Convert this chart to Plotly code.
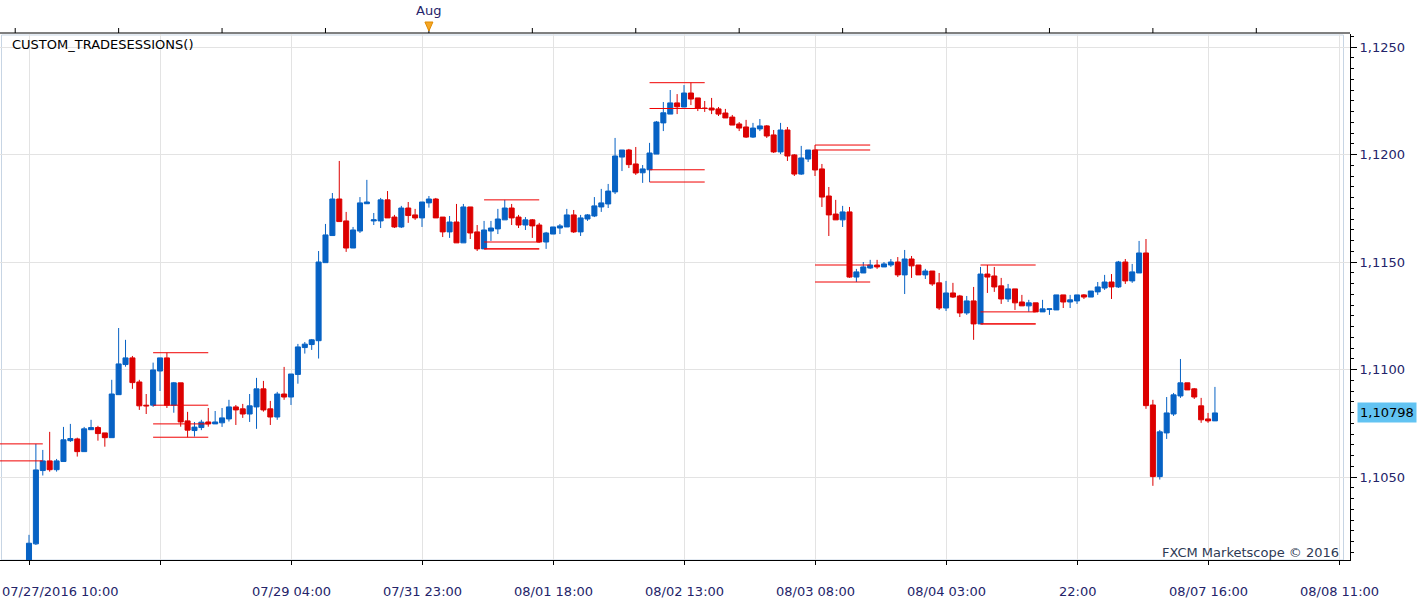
import plotly.graph_objects as go

# ---------------- data (hourly EUR/USD candles) ----------------
opens = [1.10087, 1.10189, 1.10530, 1.10575, 1.10534, 1.10572, 1.10669, 1.10677, 1.10618, 1.10720,
         1.10730, 1.10705, 1.10683, 1.10883, 1.11023, 1.11054, 1.10942, 1.10834, 1.10834, 1.10993,
         1.11054, 1.10834, 1.10938, 1.10761, 1.10716, 1.10730, 1.10756, 1.10747, 1.10752, 1.10770,
         1.10826, 1.10817, 1.10793, 1.10826, 1.10910, 1.10817, 1.10779, 1.10886, 1.10872, 1.10977,
         1.11102, 1.11116, 1.11134, 1.11497, 1.11623, 1.11793, 1.11691, 1.11565, 1.11644, 1.11771,
         1.11691, 1.11691, 1.11789, 1.11709, 1.11663, 1.11751, 1.11719, 1.11705, 1.11775, 1.11793,
         1.11709, 1.11640, 1.11686, 1.11589, 1.11756, 1.11640, 1.11561, 1.11644, 1.11654, 1.11696,
         1.11751, 1.11709, 1.11672, 1.11696, 1.11672, 1.11593, 1.11630, 1.11658, 1.11663, 1.11719,
         1.11640, 1.11700, 1.11714, 1.11756, 1.11770, 1.11826, 1.11988, 1.12021, 1.11956, 1.11915,
         1.11929, 1.12002, 1.12147, 1.12188, 1.12240, 1.12221, 1.12286, 1.12263, 1.12216, 1.12216,
         1.12212, 1.12193, 1.12174, 1.12142, 1.12128, 1.12081, 1.12119, 1.12133, 1.12091, 1.12012,
         1.12114, 1.11998, 1.11909, 1.11979, 1.12021, 1.11933, 1.11807, 1.11723, 1.11696, 1.11733,
         1.11430, 1.11449, 1.11472, 1.11486, 1.11477, 1.11486, 1.11500, 1.11440, 1.11514, 1.11486,
         1.11440, 1.11458, 1.11403, 1.11286, 1.11356, 1.11342, 1.11263, 1.11319, 1.11212, 1.11444,
         1.11435, 1.11389, 1.11328, 1.11375, 1.11314, 1.11296, 1.11310, 1.11268, 1.11279, 1.11277,
         1.11347, 1.11314, 1.11319, 1.11347, 1.11337, 1.11361, 1.11379, 1.11407, 1.11384, 1.11500,
         1.11412, 1.11449, 1.11542, 1.10835, 1.10502, 1.10705, 1.10793, 1.10877, 1.10938, 1.10910,
         1.10831, 1.10770, 1.10761]
highs = [1.10231, 1.10654, 1.10626, 1.10710, 1.10584, 1.10733, 1.10747, 1.10683, 1.10733, 1.10766,
         1.10738, 1.10705, 1.10952, 1.11193, 1.11138, 1.11063, 1.10952, 1.10886, 1.11032, 1.11054,
         1.11078, 1.10942, 1.10938, 1.10803, 1.10756, 1.10766, 1.10821, 1.10807, 1.10821, 1.10859,
         1.10835, 1.10840, 1.10886, 1.10961, 1.10947, 1.10854, 1.10896, 1.11012, 1.10979, 1.11119,
         1.11128, 1.11142, 1.11551, 1.11677, 1.11821, 1.11970, 1.11733, 1.11663, 1.11802, 1.11882,
         1.11728, 1.11798, 1.11830, 1.11719, 1.11761, 1.11779, 1.11747, 1.11779, 1.11807, 1.11798,
         1.11709, 1.11714, 1.11770, 1.11770, 1.11756, 1.11672, 1.11691, 1.11691, 1.11747, 1.11789,
         1.11770, 1.11719, 1.11709, 1.11700, 1.11682, 1.11640, 1.11663, 1.11677, 1.11747, 1.11742,
         1.11719, 1.11723, 1.11802, 1.11840, 1.11863, 1.12077, 1.12021, 1.12026, 1.12035, 1.11951,
         1.12054, 1.12156, 1.12244, 1.12300, 1.12281, 1.12323, 1.12334, 1.12263, 1.12249, 1.12263,
         1.12221, 1.12212, 1.12184, 1.12151, 1.12161, 1.12147, 1.12165, 1.12137, 1.12114, 1.12147,
         1.12128, 1.12002, 1.12040, 1.12021, 1.12044, 1.11956, 1.11849, 1.11789, 1.11761, 1.11756,
         1.11468, 1.11500, 1.11510, 1.11510, 1.11500, 1.11514, 1.11523, 1.11556, 1.11528, 1.11486,
         1.11468, 1.11458, 1.11449, 1.11412, 1.11403, 1.11347, 1.11342, 1.11384, 1.11477, 1.11486,
         1.11477, 1.11426, 1.11398, 1.11375, 1.11347, 1.11324, 1.11310, 1.11324, 1.11282, 1.11347,
         1.11347, 1.11347, 1.11347, 1.11351, 1.11365, 1.11407, 1.11440, 1.11444, 1.11505, 1.11514,
         1.11491, 1.11598, 1.11607, 1.10859, 1.10719, 1.10872, 1.10891, 1.11049, 1.10938, 1.10914,
         1.10868, 1.10798, 1.10919]
lows = [1.10068, 1.10184, 1.10507, 1.10525, 1.10525, 1.10572, 1.10663, 1.10595, 1.10618, 1.10719,
        1.10669, 1.10641, 1.10683, 1.10883, 1.11013, 1.10910, 1.10812, 1.10793, 1.10826, 1.10900,
        1.10821, 1.10799, 1.10734, 1.10685, 1.10688, 1.10718, 1.10734, 1.10747, 1.10733, 1.10758,
        1.10742, 1.10775, 1.10756, 1.10724, 1.10804, 1.10742, 1.10766, 1.10859, 1.10835, 1.10934,
        1.11074, 1.11091, 1.11051, 1.11497, 1.11623, 1.11688, 1.11547, 1.11565, 1.11635, 1.11770,
        1.11672, 1.11658, 1.11705, 1.11658, 1.11658, 1.11682, 1.11696, 1.11663, 1.11753, 1.11705,
        1.11616, 1.11612, 1.11589, 1.11589, 1.11607, 1.11551, 1.11561, 1.11598, 1.11630, 1.11696,
        1.11672, 1.11658, 1.11649, 1.11612, 1.11589, 1.11561, 1.11630, 1.11630, 1.11663, 1.11635,
        1.11621, 1.11691, 1.11709, 1.11733, 1.11751, 1.11816, 1.11923, 1.11937, 1.11905, 1.11868,
        1.11872, 1.12002, 1.12109, 1.12188, 1.12188, 1.12221, 1.12230, 1.12202, 1.12198, 1.12188,
        1.12179, 1.12170, 1.12137, 1.12109, 1.12077, 1.12077, 1.12109, 1.12077, 1.12007, 1.12002,
        1.11970, 1.11900, 1.11905, 1.11965, 1.11900, 1.11756, 1.11621, 1.11696, 1.11663, 1.11426,
        1.11407, 1.11449, 1.11468, 1.11468, 1.11477, 1.11477, 1.11430, 1.11351, 1.11426, 1.11440,
        1.11421, 1.11389, 1.11277, 1.11272, 1.11333, 1.11244, 1.11254, 1.11138, 1.11212, 1.11356,
        1.11361, 1.11305, 1.11314, 1.11277, 1.11296, 1.11268, 1.11268, 1.11268, 1.11254, 1.11277,
        1.11286, 1.11286, 1.11305, 1.11328, 1.11337, 1.11347, 1.11370, 1.11328, 1.11379, 1.11398,
        1.11403, 1.11449, 1.10817, 1.10459, 1.10488, 1.10677, 1.10784, 1.10868, 1.10905, 1.10863,
        1.10752, 1.10752, 1.10761]
closes = [1.10192, 1.10533, 1.10575, 1.10534, 1.10575, 1.10673, 1.10679, 1.10618, 1.10724, 1.10730,
          1.10702, 1.10683, 1.10886, 1.11026, 1.11054, 1.10939, 1.10831, 1.10831, 1.10998, 1.11054,
          1.10834, 1.10938, 1.10756, 1.10718, 1.10732, 1.10755, 1.10747, 1.10756, 1.10775, 1.10826,
          1.10812, 1.10793, 1.10831, 1.10910, 1.10812, 1.10779, 1.10886, 1.10872, 1.10979, 1.11105,
          1.11118, 1.11138, 1.11500, 1.11626, 1.11793, 1.11688, 1.11565, 1.11649, 1.11775, 1.11779,
          1.11696, 1.11789, 1.11705, 1.11663, 1.11751, 1.11716, 1.11705, 1.11779, 1.11793, 1.11705,
          1.11640, 1.11686, 1.11589, 1.11756, 1.11635, 1.11561, 1.11649, 1.11658, 1.11700, 1.11751,
          1.11705, 1.11672, 1.11696, 1.11668, 1.11593, 1.11635, 1.11663, 1.11668, 1.11719, 1.11640,
          1.11705, 1.11719, 1.11761, 1.11775, 1.11830, 1.11993, 1.12021, 1.11953, 1.11914, 1.11933,
          1.12007, 1.12151, 1.12194, 1.12240, 1.12222, 1.12286, 1.12258, 1.12216, 1.12214, 1.12207,
          1.12188, 1.12170, 1.12137, 1.12123, 1.12081, 1.12123, 1.12133, 1.12086, 1.12012, 1.12114,
          1.11993, 1.11909, 1.11984, 1.12021, 1.11928, 1.11802, 1.11719, 1.11696, 1.11733, 1.11430,
          1.11454, 1.11477, 1.11486, 1.11477, 1.11491, 1.11500, 1.11440, 1.11514, 1.11482, 1.11440,
          1.11458, 1.11398, 1.11286, 1.11356, 1.11337, 1.11263, 1.11319, 1.11212, 1.11444, 1.11430,
          1.11384, 1.11328, 1.11375, 1.11310, 1.11296, 1.11310, 1.11268, 1.11282, 1.11282, 1.11347,
          1.11314, 1.11324, 1.11347, 1.11337, 1.11365, 1.11384, 1.11407, 1.11384, 1.11500, 1.11412,
          1.11454, 1.11542, 1.10832, 1.10502, 1.10710, 1.10798, 1.10882, 1.10938, 1.10905, 1.10872,
          1.10766, 1.10761, 1.10798]

# trade sessions: first candle index of each 9-hour session
session_starts = [-6, 18, 66, 90, 114, 138]
session_len = 9

# x-axis (candle index) grid and labels
grid_candles = list(range(0, 191, 19))
xlabel_candles = [0, 38, 57, 76, 95, 114, 133, 152, 171, 190]
xlabel_texts = ["07/27/2016 10:00", "07/29 04:00", "07/31 23:00", "08/01 18:00", "08/02 13:00",
                "08/03 08:00", "08/04 03:00", "22:00", "08/07 16:00", "08/08 11:00"]
month_candle = 58
month_text = "Aug"
top_tick_candles = list(range(-2, 192, 15))

ytick_vals = [1.1050, 1.1100, 1.1150, 1.1200, 1.1250]
ytick_texts = ["1,1050", "1,1100", "1,1150", "1,1200", "1,1250"]

indicator_name = "CUSTOM_TRADESESSIONS()"
copyright_text = "FXCM Marketscope \u00a9 2016"

# ---------------- styling ----------------
BLUE = "#0762c4"
RED = "#dc0000"
LINE_RED = "#f00000"
GRID = "#e3e3e3"
NAVY = "#24246a"
FONT = "DejaVu Sans"

W, H = 1423, 604
ML, MR, MT, MB = 0, 73, 34, 44
PW, PH = W - ML - MR, H - MT - MB


def px_x(px):
    return (px - ML) / PW


def px_y(py):
    return (H - MB - py) / PH


n = len(closes)
xs = list(range(n))

fig = go.Figure()

fig.add_trace(go.Candlestick(
    x=xs, open=opens, high=highs, low=lows, close=closes,
    increasing=dict(line=dict(color=BLUE, width=1), fillcolor=BLUE),
    decreasing=dict(line=dict(color=RED, width=1), fillcolor=RED),
    whiskerwidth=0, showlegend=False, hoverinfo="skip",
))

# session lines: open, high, low, close of each session
sx, sy = [], []
for s in session_starts:
    idx = [k for k in range(s, s + session_len) if 0 <= k < n]
    if not idx:
        continue
    s_open = opens[idx[0]]
    s_close = closes[idx[-1]]
    s_high = max(highs[k] for k in idx)
    s_low = min(lows[k] for k in idx)
    for lvl in (s_high, s_open, s_close, s_low):
        sx += [s, s + session_len - 1, None]
        sy += [lvl, lvl, None]
fig.add_trace(go.Scatter(x=sx, y=sy, mode="lines", line=dict(color=LINE_RED, width=1),
                         showlegend=False, hoverinfo="skip"))

# axis ranges from pixel geometry
cw = 6.895
x_lo = (0 - 29) / cw
x_hi = x_lo + PW / cw
y_top = 1.1250 + (47 - MT) / 21500
y_bot = 1.1250 - (H - MB - 47) / 21500

shapes = []
# inner plot border
shapes.append(dict(type="rect", xref="paper", yref="paper", x0=px_x(1.5), x1=px_x(1343.5),
                   y0=px_y(560), y1=px_y(35), line=dict(color="#c7d5e4", width=1), layer="below"))
# top navigator line with small ticks
shapes.append(dict(type="line", xref="paper", yref="paper", x0=0, x1=1, y0=px_y(33), y1=px_y(33),
                   line=dict(color="#000000", width=1)))
for t in top_tick_candles:
    shapes.append(dict(type="line", xref="x", yref="paper", x0=t, x1=t, y0=px_y(33), y1=px_y(28),
                       line=dict(color="#000000", width=1)))
# month marker
mx = month_candle
shapes.append(dict(type="path", xref="paper", yref="paper",
                   path="M {a},{b} L {c},{b} L {d},{e} Z".format(
                       a=px_x(29 + mx * cw - 4), c=px_x(29 + mx * cw + 4), b=px_y(22),
                       d=px_x(29 + mx * cw), e=px_y(31)),
                   fillcolor="#f5a623", line=dict(color="#e08a00", width=1)))

annotations = []
for i, (c, t) in enumerate(zip(xlabel_candles, xlabel_texts)):
    if i == 0:
        annotations.append(dict(x=0, xref="paper", y=px_y(591), yref="paper", text=t, showarrow=False,
                                xanchor="left", yanchor="middle", font=dict(family=FONT, size=13, color=NAVY)))
    else:
        annotations.append(dict(x=c, xref="x", y=px_y(591), yref="paper", text=t, showarrow=False,
                                xanchor="center", yanchor="middle", font=dict(family=FONT, size=13, color=NAVY)))
annotations.append(dict(x=month_candle, xref="x", y=px_y(11), yref="paper", text=month_text,
                        showarrow=False, xanchor="center", yanchor="middle",
                        font=dict(family=FONT, size=13, color=NAVY)))
annotations.append(dict(x=px_x(10), xref="paper", y=px_y(44), yref="paper", text=indicator_name,
                        showarrow=False, xanchor="left", yanchor="middle",
                        font=dict(family=FONT, size=13, color="#000000")))
annotations.append(dict(x=px_x(1341), xref="paper", y=px_y(552), yref="paper", text=copyright_text,
                        showarrow=False, xanchor="right", yanchor="middle",
                        font=dict(family=FONT, size=13, color="#2d3a55")))
last = closes[-1]
annotations.append(dict(x=px_x(1357), xref="paper", y=last, yref="y",
                        text="{:.5f}".format(last).replace(".", ","), showarrow=False,
                        xanchor="left", yanchor="middle", bgcolor="#62c3f2", borderpad=2,
                        font=dict(family=FONT, size=13, color="#000000")))

fig.update_layout(
    width=W, height=H,
    margin=dict(l=ML, r=MR, t=MT, b=MB, pad=0),
    paper_bgcolor="#ffffff", plot_bgcolor="#ffffff",
    boxgap=0.27, boxgroupgap=0,
    showlegend=False,
    shapes=shapes, annotations=annotations,
    xaxis=dict(range=[x_lo, x_hi], tickmode="array", tickvals=grid_candles, showticklabels=False,
               showgrid=True, gridcolor=GRID, gridwidth=1, zeroline=False,
               showline=True, linecolor="#000000", linewidth=1,
               ticks="outside", ticklen=4, tickcolor="#000000",
               rangeslider=dict(visible=False), fixedrange=True),
    yaxis=dict(range=[y_bot, y_top], side="right", tickmode="array", tickvals=ytick_vals,
               ticktext=ytick_texts, showgrid=True, gridcolor=GRID, gridwidth=1, zeroline=False,
               showline=True, linecolor="#000000", linewidth=1,
               ticks="outside", ticklen=6, tickcolor="#000000",
               tickfont=dict(family=FONT, size=13, color=NAVY),
               minor=dict(tickmode="linear", tick0=1.1, dtick=0.0005, ticks="outside", ticklen=3,
                          tickcolor="#000000", showgrid=False),
               fixedrange=True),
)

fig.write_html("out.html")
